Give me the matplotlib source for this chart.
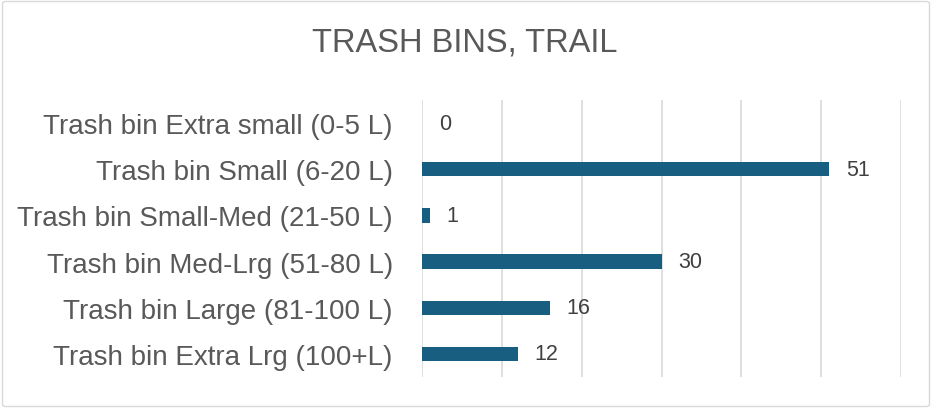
import matplotlib
matplotlib.use("Agg")
import matplotlib.pyplot as plt
from matplotlib.patches import FancyBboxPatch

categories = ["Trash bin Extra small (0-5 L)", "Trash bin Small (6-20 L)",
              "Trash bin Small-Med (21-50 L)", "Trash bin Med-Lrg (51-80 L)",
              "Trash bin Large (81-100 L)", "Trash bin Extra Lrg (100+L)"]
values = [0, 51, 1, 30, 16, 12]
title = "TRASH BINS, TRAIL"

plt.rcParams['font.family'] = ['Liberation Sans', 'DejaVu Sans']

W, H = 932, 410
fig = plt.figure(figsize=(W/100, H/100), dpi=100)
fig.patch.set_facecolor("white")
border = FancyBboxPatch((2.5/W, 2.5/H), (W-5)/W, (H-5)/H,
                        boxstyle="round,pad=0,rounding_size=0.004",
                        transform=fig.transFigure, fill=False,
                        edgecolor="#d9d9d9", linewidth=1.0)
fig.patches.append(border)

ax = fig.add_axes([422/W, 1-378/H, (901-422)/W, (378-101)/H])
y = list(range(len(categories)))
ax.barh(y, values, height=0.31, color="#175e80", zorder=3)
ax.set_ylim(len(categories)-0.5, -0.5)
ax.set_xlim(0, 60)
ax.set_xticks(range(0, 61, 10))
ax.xaxis.grid(True, color="#d9d9d9", linewidth=1.2, zorder=0)
ax.tick_params(axis="x", length=0, labelbottom=False)
ax.tick_params(axis="y", length=0, pad=21, labelsize=20, labelcolor="#595959")
ax.set_yticks(y)
ax.set_yticklabels(categories)
for s in ax.spines.values():
    s.set_visible(False)
for yi, v in zip(y, values):
    ax.text(v + 2.1, yi, str(v), va="center", ha="left", fontsize=15.5, color="#404040")

fig.text(465/W, 1-43/H, title, ha="center", va="center", fontsize=23.5, color="#595959")
fig.savefig("out.png", dpi=100)
